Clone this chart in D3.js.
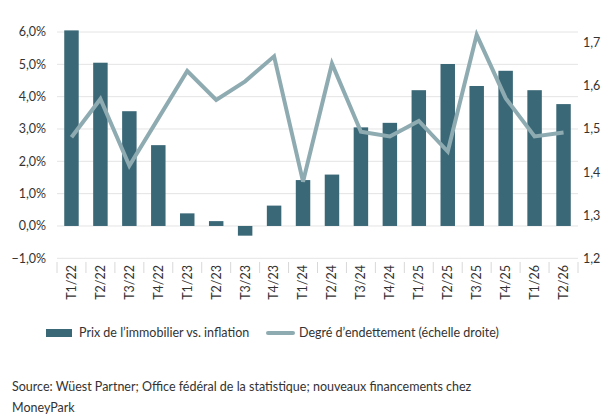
<!DOCTYPE html>
<html><head><meta charset="utf-8">
<script src="https://cdn.jsdelivr.net/npm/d3@7"></script>
<style>body{margin:0;background:#fff;} text{font-family:Lato, sans-serif;fill:#333;}</style>
</head><body>
<svg id="c" width="609" height="419"></svg>
<script>
const categories = ["T1/22","T2/22","T3/22","T4/22","T1/23","T2/23","T3/23","T4/23","T1/24","T2/24","T3/24","T4/24","T1/25","T2/25","T3/25","T4/25","T1/26","T2/26"];
const priceVsInflation = [6.05,5.05,3.55,2.5,0.39,0.15,-0.3,0.63,1.42,1.59,3.05,3.19,4.2,5.01,4.33,4.8,4.2,3.77];
const debtRatio = [1.481,1.57,1.415,1.525,1.635,1.568,1.611,1.669,1.378,1.652,1.494,1.483,1.519,1.448,1.719,1.572,1.483,1.492];
const leftTicks = [-1,0,1,2,3,4,5,6];
const rightTicks = [1.2,1.3,1.4,1.5,1.6,1.7];
const barName = "Prix de l’immobilier vs. inflation";
const lineName = "Degré d’endettement (échelle droite)";
const sourceLines = ["Source: Wüest Partner; Office fédéral de la statistique; nouveaux financements chez","MoneyPark"];

const barColor = "#3b6877", lineColor = "#8fabb2", gridColor = "#e4e4e4";
const svg = d3.select("#c");
const x = d3.scaleBand().domain(categories).range([57, 578]).paddingInner(0.5).paddingOuter(0.25);
const yL = d3.scaleLinear().domain([-1, 6]).range([258.3, 32]);
const yR = d3.scaleLinear().domain([1.2, 1.7]).range([258.3, 43]);
const fmt = v => d3.format(".1f")(v).replace(".", ",").replace("-", "-") + "%";

// grid
svg.append("g").selectAll("line").data(leftTicks).join("line")
  .attr("x1", 57).attr("x2", 578).attr("y1", d => yL(d)).attr("y2", d => yL(d))
  .attr("stroke", gridColor).attr("stroke-width", 1);

// left labels
svg.append("g").selectAll("text").data(leftTicks).join("text")
  .attr("x", 46).attr("y", d => yL(d)).attr("dy", "0.35em").attr("text-anchor", "end")
  .style("font-size", "12.5px").text(fmt);
// right labels
svg.append("g").selectAll("text").data(rightTicks).join("text")
  .attr("x", 583).attr("y", d => yR(d)).attr("dy", "0.35em")
  .style("font-size", "12.5px").text(d => d3.format(".1f")(d).replace(".", ","));

// x ticks (band boundaries)
const step = x.step();
const bounds = d3.range(categories.length + 1).map(i => 57 + i * (521 / categories.length));
svg.append("g").selectAll("line").data(bounds).join("line")
  .attr("x1", d => d).attr("x2", d => d).attr("y1", 262).attr("y2", 273)
  .attr("stroke", "#d8d8d8").attr("stroke-width", 1);
// x labels
svg.append("g").selectAll("text").data(categories).join("text")
  .attr("transform", d => `translate(${x(d) + x.bandwidth() / 2},265) rotate(-90)`)
  .attr("dy", "0.35em").attr("text-anchor", "end")
  .style("font-size", "12.5px").text(d => d);

// bars
svg.append("g").selectAll("rect").data(categories).join("rect")
  .attr("x", d => x(d)).attr("width", x.bandwidth())
  .attr("y", (d, i) => Math.min(yL(priceVsInflation[i]), yL(0)))
  .attr("height", (d, i) => Math.abs(yL(priceVsInflation[i]) - yL(0)))
  .attr("fill", barColor);

// line
const line = d3.line().x((d, i) => x(categories[i]) + x.bandwidth() / 2).y(d => yR(d));
svg.append("path").datum(debtRatio).attr("d", line)
  .attr("fill", "none").attr("stroke", lineColor).attr("stroke-width", 4).attr("stroke-linejoin", "miter");

// legend
const lg = svg.append("g");
lg.append("rect").attr("x", 46).attr("y", 329).attr("width", 26).attr("height", 8).attr("fill", barColor);
lg.append("text").attr("x", 79).attr("y", 333).attr("dy", "0.35em").style("font-size", "12.5px").text(barName);
lg.append("line").attr("x1", 268).attr("x2", 293).attr("y1", 333).attr("y2", 333)
  .attr("stroke", lineColor).attr("stroke-width", 4).attr("stroke-linecap", "round");
lg.append("text").attr("x", 299).attr("y", 333).attr("dy", "0.35em").style("font-size", "12.5px").text(lineName);

// source
svg.append("g").selectAll("text").data(sourceLines).join("text")
  .attr("x", 12).attr("y", (d, i) => 387 + i * 21).attr("dy", "0.35em")
  .style("font-size", "12.5px").text(d => d);
</script>
</body></html>
